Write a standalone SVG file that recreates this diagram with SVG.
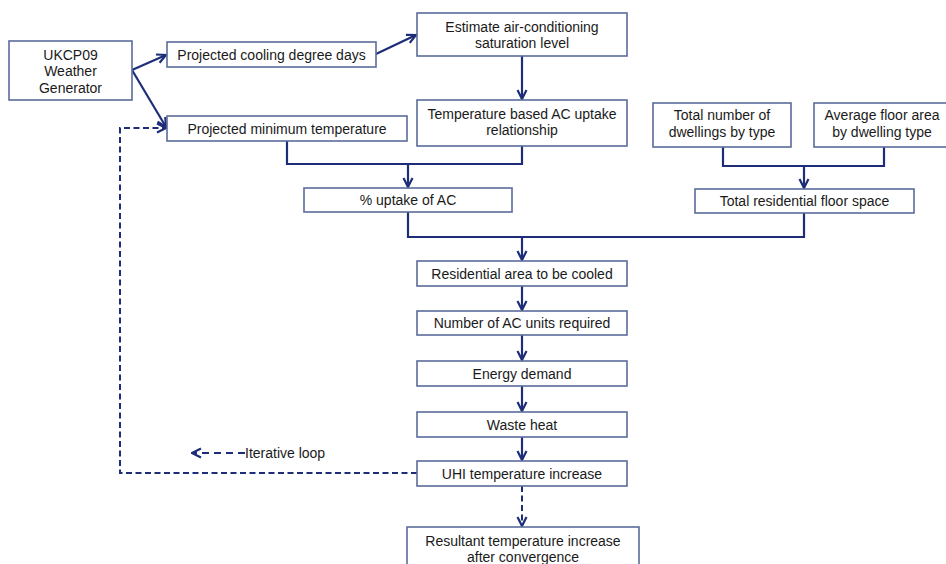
<svg xmlns="http://www.w3.org/2000/svg" width="946" height="564" viewBox="0 0 946 564">
<defs>
<style>
.box{fill:#fff;stroke:#5b6c9c;stroke-width:1.6}
.t{font-family:"Liberation Sans",Arial,sans-serif;font-size:14px;fill:#1a1a1a;text-anchor:middle}
.c{fill:none;stroke:#1e2d78;stroke-width:2.2}
.d{fill:none;stroke:#1e2d78;stroke-width:2;stroke-dasharray:6 3.5}
.l{fill:none;stroke:#1e2d78;stroke-width:2;stroke-dasharray:7 5}
</style>
<marker id="ah" viewBox="0 0 12 12" refX="11" refY="6" markerWidth="12" markerHeight="12" markerUnits="userSpaceOnUse" orient="auto">
<path d="M2,1.5 L11,6 L2,10.5" fill="none" stroke="#1e2d78" stroke-width="2.2"/>
</marker>
</defs>
<rect width="946" height="564" fill="#fff"/>
<g id="connectors">
<line class="c" x1="132" y1="70" x2="166" y2="55" marker-end="url(#ah)"/>
<line class="c" x1="132" y1="70" x2="166" y2="127" marker-end="url(#ah)"/>
<line class="c" x1="376" y1="54" x2="416" y2="35" marker-end="url(#ah)"/>
<line class="c" x1="522" y1="56" x2="522" y2="99" marker-end="url(#ah)"/>
<polyline class="c" points="287,141 287,164 522,164 522,146"/>
<line class="c" x1="408" y1="164" x2="408" y2="187" marker-end="url(#ah)"/>
<polyline class="c" points="723,147 723,166 884,166 884,147"/>
<line class="c" x1="804" y1="166" x2="804" y2="188" marker-end="url(#ah)"/>
<polyline class="c" points="408,212 408,237 804,237 804,213"/>
<line class="c" x1="522" y1="237" x2="522" y2="260" marker-end="url(#ah)"/>
<line class="c" x1="522" y1="286" x2="522" y2="310" marker-end="url(#ah)"/>
<line class="c" x1="522" y1="335" x2="522" y2="360" marker-end="url(#ah)"/>
<line class="c" x1="522" y1="386" x2="522" y2="411" marker-end="url(#ah)"/>
<line class="c" x1="522" y1="437" x2="522" y2="460" marker-end="url(#ah)"/>
<polyline class="d" points="417,473 120,473 120,128 166,128" marker-end="url(#ah)"/>
<line class="d" x1="522" y1="486" x2="522" y2="526" marker-end="url(#ah)"/>
<line class="l" x1="245" y1="453" x2="192" y2="453" marker-end="url(#ah)"/>
</g>
<g id="ukcp09"><rect class="box" x="9" y="41" width="123" height="59"/><text class="t" x="70.5" y="60">UKCP09</text><text class="t" x="70.5" y="76">Weather</text><text class="t" x="70.5" y="93">Generator</text></g>
<g id="cooling"><rect class="box" x="167" y="42" width="209" height="25"/><text class="t" x="271.5" y="60">Projected cooling degree days</text></g>
<g id="mintemp"><rect class="box" x="167" y="116" width="240" height="25"/><text class="t" x="287" y="134">Projected minimum temperature</text></g>
<g id="saturation"><rect class="box" x="417" y="13" width="210" height="43"/><text class="t" x="522" y="32">Estimate air-conditioning</text><text class="t" x="522" y="48">saturation level</text></g>
<g id="uptakerel"><rect class="box" x="417" y="100" width="210" height="46"/><text class="t" x="522" y="119">Temperature based AC uptake</text><text class="t" x="522" y="135">relationship</text></g>
<g id="dwellings"><rect class="box" x="653" y="103" width="138" height="44"/><text class="t" x="722" y="120">Total number of</text><text class="t" x="722" y="137">dwellings by type</text></g>
<g id="floorarea"><rect class="box" x="814" y="103" width="140" height="44"/><text class="t" x="882" y="120">Average floor area</text><text class="t" x="882" y="137">by dwelling type</text></g>
<g id="uptake"><rect class="box" x="304" y="188" width="208" height="24"/><text class="t" x="408" y="205">% uptake of AC</text></g>
<g id="floorspace"><rect class="box" x="695" y="189" width="219" height="24"/><text class="t" x="804.5" y="206">Total residential floor space</text></g>
<g id="area"><rect class="box" x="417" y="261" width="210" height="25"/><text class="t" x="522" y="278.5">Residential area to be cooled</text></g>
<g id="units"><rect class="box" x="417" y="311" width="210" height="24"/><text class="t" x="522" y="328">Number of AC units required</text></g>
<g id="energy"><rect class="box" x="417" y="361" width="210" height="25"/><text class="t" x="522" y="378.5">Energy demand</text></g>
<g id="waste"><rect class="box" x="417" y="412" width="210" height="25"/><text class="t" x="522" y="429.5">Waste heat</text></g>
<g id="uhi"><rect class="box" x="417" y="461" width="210" height="25"/><text class="t" x="522" y="478.5">UHI temperature increase</text></g>
<g id="resultant"><rect class="box" x="407" y="527" width="232" height="50"/><text class="t" x="523" y="546">Resultant temperature increase</text><text class="t" x="523" y="562">after convergence</text></g>
<g id="legend"><text class="t" x="245" y="458" style="text-anchor:start">Iterative loop</text></g>
</svg>
